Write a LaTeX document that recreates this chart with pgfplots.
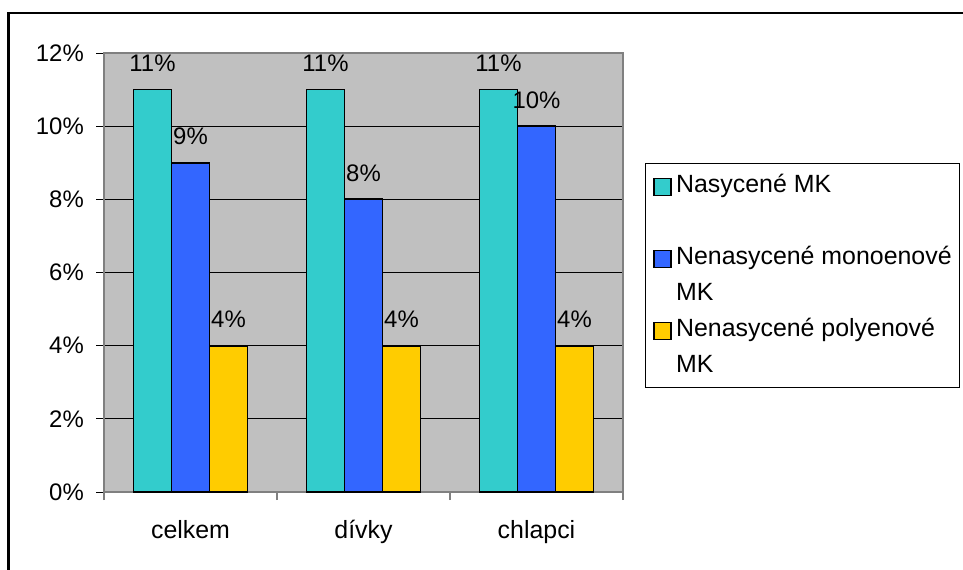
\documentclass[border=0pt]{standalone}
\usepackage{pgfplots}
\pgfplotsset{compat=1.18}
\usepackage{fontspec}
\setmainfont{Liberation Sans}
\definecolor{tealbar}{HTML}{33CCCC}
\definecolor{bluebar}{HTML}{3366FF}
\definecolor{yelbar}{HTML}{FFCC00}
\definecolor{plotgray}{HTML}{C0C0C0}
\definecolor{axgray}{HTML}{808080}
\newcommand{\chartfont}{\fontsize{25}{35}\selectfont}
\newcommand{\numfont}{\fontsize{24}{35}\selectfont}
\begin{document}
\begin{tikzpicture}
\useasboundingbox (0,0) rectangle (963bp,-570bp);
\draw[line width=2.2bp, black] (8.5bp,-600bp) -- (8.5bp,-12.8bp) -- (1000bp,-12.8bp);
\begin{axis}[
  at={(104bp,-53bp)}, anchor=north west,
  scale only axis, width=519bp, height=439bp,
  xmin=-0.5, xmax=2.5, ymin=0, ymax=12,
  /pgf/number format/assume math mode=true,
  axis background/.style={fill=plotgray},
  axis line style={axgray, line width=1.3bp},
  font=\chartfont,
  ytick={0,2,4,6,8,10,12},
  yticklabel={\pgfmathprintnumber{\tick}\%},
  yticklabel style={inner sep=0pt, xshift=-12bp, font=\numfont},
  ymajorgrids, grid style={black, line width=0.9bp},
  xtick={0,1,2}, xticklabels={celkem,dívky,chlapci},
  minor xtick={-0.5,0.5,1.5,2.5},
  tick align=outside,
  xtick pos=bottom, ytick pos=left,
  major tick length=8bp, minor tick length=8bp,
  major x tick style={draw=none},
  minor x tick style={axgray, line width=1.2bp},
  major y tick style={black, line width=0.9bp},
  xticklabel style={anchor=base, inner sep=0pt, yshift=-38bp},
  nodes near coords={\pgfmathprintnumber{\pgfplotspointmeta}\%},
  every node near coord/.append style={anchor=base, inner sep=0pt, yshift=18bp, black, font=\numfont},
  legend style={at={(1.0424,0.7494)}, anchor=north west, draw=black, line width=0.9bp,
    font=\chartfont, inner xsep=8bp, inner ysep=4.5bp, row sep=1bp,
    nodes={inner sep=0pt, text height=24.5bp, text depth=10.5bp}, column sep=4.5bp,
    cells={anchor=base west}},
  legend image code/.code={\draw[#1, line width=1.2bp, draw=black] (0bp,-3bp) rectangle (17bp,14bp);},
]
\addplot[ybar, bar width=38bp, bar shift=-38bp, fill=tealbar, draw=black, line width=1.7bp,
  every node near coord/.append style={xshift=-38bp}, forget plot]
  coordinates {(0,11) (1,11) (2,11)};
\addplot[ybar, bar width=38bp, bar shift=0bp, fill=bluebar, draw=black, line width=1.7bp, forget plot]
  coordinates {(0,9) (1,8) (2,10)};
\addplot[ybar, bar width=38bp, bar shift=38bp, fill=yelbar, draw=black, line width=1.7bp,
  every node near coord/.append style={xshift=38bp}, forget plot]
  coordinates {(0,4) (1,4) (2,4)};
\addlegendimage{fill=tealbar}
\addlegendentry{Nasycené MK}
\addlegendimage{legend image code/.code={}}
\addlegendentry{}
\addlegendimage{fill=bluebar}
\addlegendentry{Nenasycené monoenové}
\addlegendimage{legend image code/.code={}}
\addlegendentry{MK}
\addlegendimage{fill=yelbar}
\addlegendentry{Nenasycené polyenové}
\addlegendimage{legend image code/.code={}}
\addlegendentry{MK}
\end{axis}
\end{tikzpicture}
\end{document}
